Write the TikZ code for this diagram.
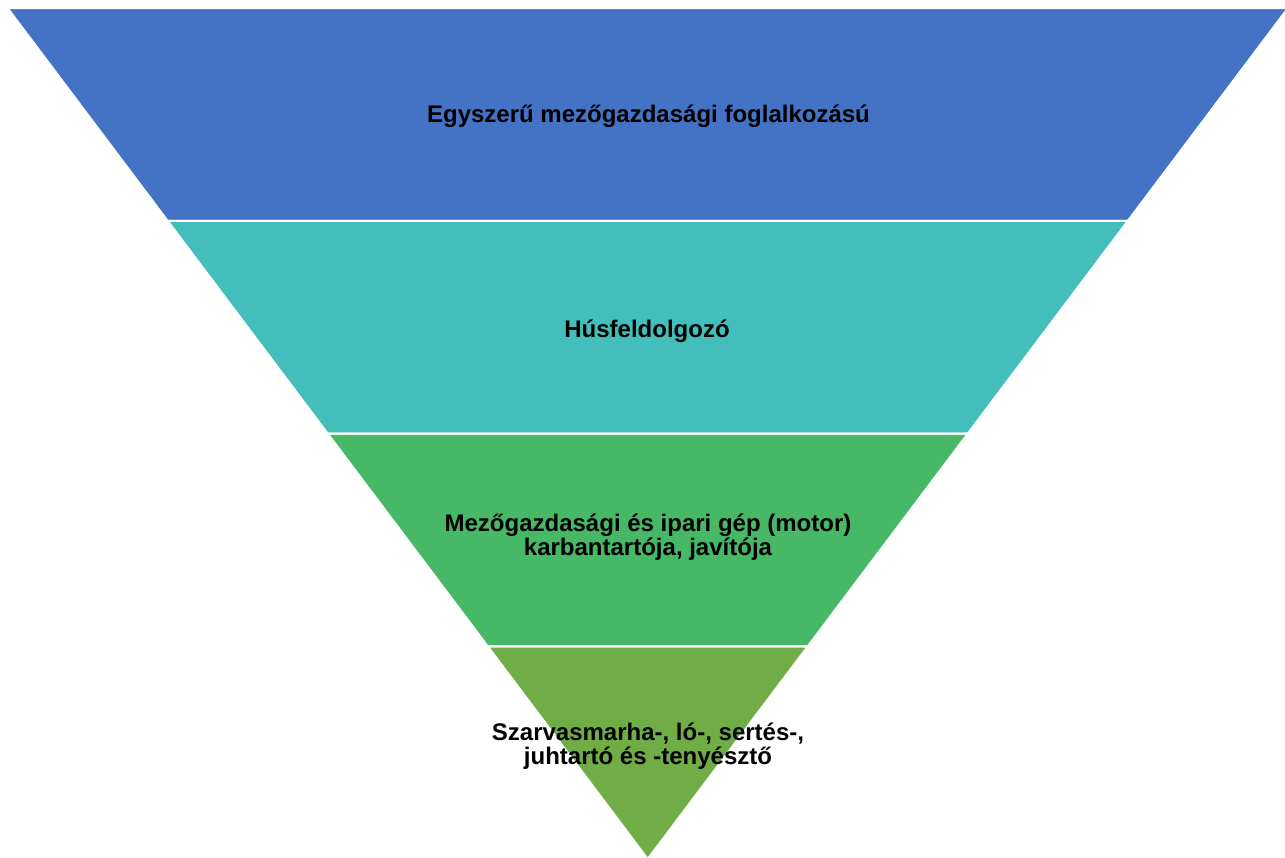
\documentclass[tikz,border=0pt]{standalone}
\usepackage{fontspec}
\setmainfont{Liberation Sans}
\usetikzlibrary{calc}
\begin{document}
\begin{tikzpicture}[x=1pt,y=-1pt,
  band/.style={draw=white,line width=2pt,line join=miter},
  lbl/.style={font=\bfseries\fontsize{24}{23.5}\selectfont,align=center,text=black,inner sep=0pt,anchor=base}]
\definecolor{cA}{HTML}{4472C4}
\definecolor{cB}{HTML}{44BEBB}
\definecolor{cC}{HTML}{47B866}
\definecolor{cD}{HTML}{70AD47}
\useasboundingbox (0,0) rectangle (1285,857);
\clip (0,0) rectangle (1285,857);
% overall triangle
\coordinate (t1) at (7.5,8);
\coordinate (t2) at (1288,8);
\coordinate (ap) at (647.75,859);
\coordinate (l1) at ($(t1)!0.25!(ap)$);
\coordinate (r1) at ($(t2)!0.25!(ap)$);
\coordinate (l2) at ($(t1)!0.5!(ap)$);
\coordinate (r2) at ($(t2)!0.5!(ap)$);
\coordinate (l3) at ($(t1)!0.75!(ap)$);
\coordinate (r3) at ($(t2)!0.75!(ap)$);
\fill[cA] (t1) -- (t2) -- (r1) -- (l1) -- cycle;
\fill[cB] (l1) -- (r1) -- (r2) -- (l2) -- cycle;
\fill[cC] (l2) -- (r2) -- (r3) -- (l3) -- cycle;
\fill[cD] (l3) -- (r3) -- (ap) -- cycle;
\draw[band] (t1) -- (t2) -- (r1) -- (l1) -- cycle;
\draw[band] (l1) -- (r1) -- (r2) -- (l2) -- cycle;
\draw[band] (l2) -- (r2) -- (r3) -- (l3) -- cycle;
\draw[band] (l3) -- (r3) -- (ap) -- cycle;
\node[lbl] (a) at (648.5,122.3) {Egyszerű mezőgazdasági foglalkozású};
\node[lbl] (b) at (647,337.3) {Húsfeldolgozó};
\node[lbl] (c) at (648,555) {Mezőgazdasági és ipari gép (motor)\\karbantartója, javítója};
\node[lbl] (d) at (648,764) {Szarvasmarha-, ló-, sertés-,\\juhtartó és -tenyésztő};
\end{tikzpicture}
\end{document}
